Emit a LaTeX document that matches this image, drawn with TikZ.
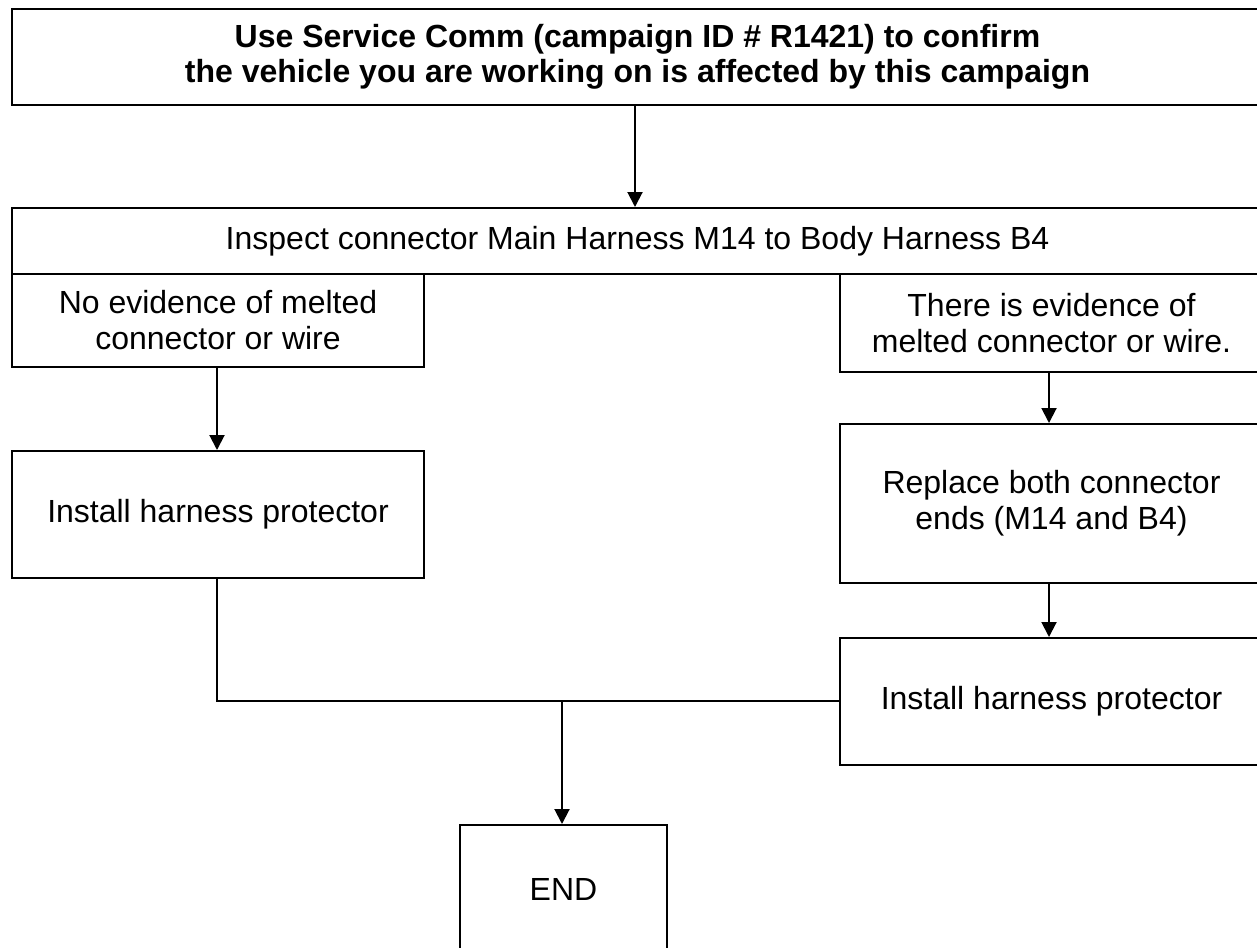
\documentclass[tikz,border=0pt]{standalone}
\usepackage{fontspec}
\setmainfont{Liberation Sans}
\usetikzlibrary{arrows.meta}
\begin{document}
\begin{tikzpicture}[x=1pt,y=-1pt,
  box/.style={draw, line width=2pt, rectangle, inner sep=0pt, align=center, anchor=north west,
    font=\fontsize{32}{36}\selectfont},
  arr/.style={line width=2pt, -{Triangle[length=15pt,width=15pt]}},
  conn/.style={line width=2pt}]
\useasboundingbox (0,0) rectangle (1257,947);
\clip (0,0) rectangle (1257,947);
\fill[white] (0,0) rectangle (1257,947);
\node[box, minimum width=1251pt, minimum height=96pt, font=\fontsize{32}{35}\selectfont\bfseries] (top) at (11,8)
  {Use Service Comm (campaign ID \# R1421) to confirm\\the vehicle you are working on is affected by this campaign};
\node[box, minimum width=1251pt, minimum height=66pt] (insp) at (11,207)
  {Inspect connector Main Harness M14 to Body Harness B4};
\node[box, minimum width=412pt, minimum height=93pt] (no) at (11,273)
  {No evidence of melted\\connector or wire};
\node[box, minimum width=423pt, minimum height=98pt] (yes) at (839,273)
  {There is evidence of\\melted connector or wire.};
\node[box, minimum width=412pt, minimum height=127pt] (instL) at (11,450)
  {Install harness protector};
\node[box, minimum width=423pt, minimum height=159pt] (repl) at (839,423)
  {Replace both connector\\ends (M14 and B4)};
\node[box, minimum width=423pt, minimum height=127pt] (instR) at (839,637)
  {Install harness protector};
\node[box, minimum width=207pt, minimum height=128pt] (end) at (459,824)
  {END};
\coordinate (j1) at (217,701);
\coordinate (j2) at (562,701);
\draw[arr] (top.south -| 635,0) -- (insp.north -| 635,0);
\draw[arr] (no.south -| j1) -- (instL.north -| j1);
\draw[arr] (yes.south -| 1049,0) -- (repl.north -| 1049,0);
\draw[arr] (repl.south -| 1049,0) -- (instR.north -| 1049,0);
\draw[conn] (instL.south -| j1) -- (j1) -- (instR.west |- j1);
\draw[arr] (j2) -- (end.north -| j2);
\end{tikzpicture}
\end{document}
